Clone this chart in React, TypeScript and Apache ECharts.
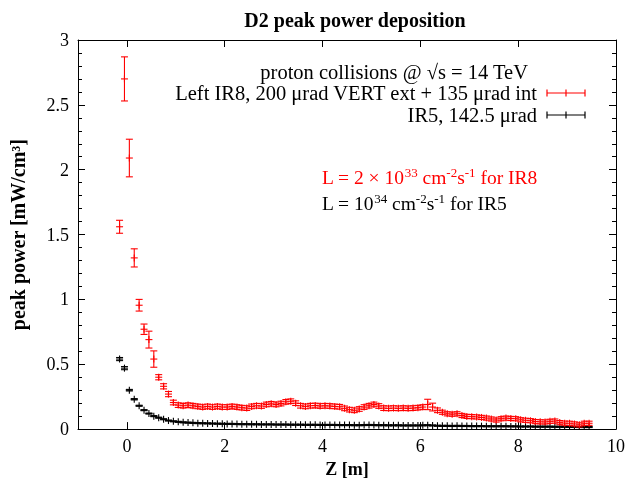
import React, { useEffect, useRef } from "react";
import * as echarts from "echarts";

const zPos = [
  -0.15, -0.05, 0.05, 0.15, 0.25, 0.35, 0.45, 0.55, 0.65, 0.75, 0.85, 0.95,
  1.05, 1.15, 1.25, 1.35, 1.45, 1.55, 1.65, 1.75, 1.85, 1.95,
  2.05, 2.15, 2.25, 2.35, 2.45, 2.55, 2.65, 2.75, 2.85, 2.95,
  3.05, 3.15, 3.25, 3.35, 3.45, 3.55, 3.65, 3.75, 3.85, 3.95,
  4.05, 4.15, 4.25, 4.35, 4.45, 4.55, 4.65, 4.75, 4.85, 4.95,
  5.05, 5.15, 5.25, 5.35, 5.45, 5.55, 5.65, 5.75, 5.85, 5.95,
  6.05, 6.15, 6.25, 6.35, 6.45, 6.55, 6.65, 6.75, 6.85, 6.95,
  7.05, 7.15, 7.25, 7.35, 7.45, 7.55, 7.65, 7.75, 7.85, 7.95,
  8.05, 8.15, 8.25, 8.35, 8.45, 8.55, 8.65, 8.75, 8.85, 8.95,
  9.05, 9.15, 9.25, 9.35, 9.45,
];

const ir8Power = [
  1.56, 2.7, 2.09, 1.32, 0.955, 0.77, 0.69, 0.54, 0.4, 0.33, 0.27, 0.205,
  0.185, 0.18, 0.185, 0.18, 0.175, 0.17, 0.175, 0.17, 0.175, 0.17,
  0.17, 0.175, 0.17, 0.165, 0.162, 0.175, 0.18, 0.178, 0.19, 0.195,
  0.19, 0.197, 0.21, 0.215, 0.2, 0.18, 0.175, 0.18, 0.182, 0.178,
  0.18, 0.178, 0.175, 0.172, 0.16, 0.15, 0.145, 0.155, 0.17, 0.18,
  0.19, 0.178, 0.162, 0.16, 0.162, 0.16, 0.162, 0.16, 0.162, 0.165,
  0.17, 0.19, 0.17, 0.145, 0.13, 0.118, 0.115, 0.118, 0.105, 0.098,
  0.096, 0.094, 0.09, 0.085, 0.078, 0.07, 0.08, 0.085, 0.082, 0.08,
  0.072, 0.068, 0.065, 0.058, 0.056, 0.055, 0.06, 0.062, 0.05, 0.046,
  0.045, 0.04, 0.033, 0.045, 0.045,
];

const ir8Err = [
  0.05, 0.17, 0.145, 0.07, 0.045, 0.04, 0.065, 0.063, 0.02, 0.02, 0.02, 0.018,
  0.018, 0.018, 0.018, 0.018, 0.018, 0.018, 0.018, 0.018, 0.018, 0.018,
  0.018, 0.018, 0.018, 0.018, 0.018, 0.018, 0.018, 0.018, 0.018, 0.018,
  0.018, 0.018, 0.018, 0.018, 0.018, 0.018, 0.018, 0.018, 0.018, 0.018,
  0.018, 0.018, 0.018, 0.018, 0.018, 0.018, 0.018, 0.018, 0.018, 0.018,
  0.018, 0.018, 0.018, 0.018, 0.018, 0.018, 0.018, 0.018, 0.018, 0.018,
  0.018, 0.04, 0.03, 0.018, 0.016, 0.016, 0.016, 0.016, 0.016, 0.016,
  0.016, 0.016, 0.016, 0.016, 0.016, 0.016, 0.016, 0.016, 0.016, 0.016,
  0.016, 0.016, 0.016, 0.016, 0.016, 0.016, 0.016, 0.016, 0.016, 0.016,
  0.016, 0.016, 0.016, 0.016, 0.016,
];

const ir5Power = [
  0.54, 0.47, 0.3, 0.23, 0.18, 0.146, 0.12, 0.1, 0.088, 0.076, 0.066, 0.06,
  0.056, 0.052, 0.05, 0.048, 0.046, 0.045, 0.044, 0.043, 0.042, 0.041,
  0.04, 0.04, 0.039, 0.038, 0.038, 0.037, 0.037, 0.036, 0.036, 0.036,
  0.035, 0.035, 0.035, 0.034, 0.034, 0.034, 0.033, 0.033, 0.033, 0.032,
  0.032, 0.032, 0.032, 0.031, 0.031, 0.031, 0.03, 0.03, 0.031, 0.032,
  0.031, 0.03, 0.03, 0.029, 0.029, 0.029, 0.028, 0.028, 0.028, 0.028,
  0.029, 0.03, 0.028, 0.026, 0.025, 0.025, 0.024, 0.025, 0.024, 0.024,
  0.023, 0.023, 0.023, 0.022, 0.022, 0.022, 0.022, 0.022, 0.021, 0.021,
  0.02, 0.02, 0.02, 0.019, 0.019, 0.019, 0.019, 0.018, 0.018, 0.018,
  0.017, 0.017, 0.016, 0.016, 0.016,
];

const ir5Err = [
  0.012, 0.012, 0.006, 0.005, 0.004, 0.004, 0.004, 0.004, 0.004, 0.004, 0.004, 0.004,
  0.004, 0.004, 0.004, 0.004, 0.004, 0.004, 0.004, 0.004, 0.004, 0.004,
  0.004, 0.004, 0.004, 0.004, 0.004, 0.004, 0.004, 0.004, 0.004, 0.004,
  0.004, 0.004, 0.004, 0.004, 0.004, 0.004, 0.004, 0.004, 0.004, 0.004,
  0.004, 0.004, 0.004, 0.004, 0.004, 0.004, 0.004, 0.004, 0.004, 0.004,
  0.004, 0.004, 0.004, 0.004, 0.004, 0.004, 0.004, 0.004, 0.004, 0.004,
  0.004, 0.004, 0.004, 0.004, 0.004, 0.004, 0.004, 0.004, 0.004, 0.004,
  0.004, 0.004, 0.004, 0.004, 0.004, 0.004, 0.004, 0.004, 0.004, 0.004,
  0.004, 0.004, 0.004, 0.004, 0.004, 0.004, 0.004, 0.004, 0.004, 0.004,
  0.004, 0.004, 0.004, 0.004, 0.004,
];

const xTicks = [0, 2, 4, 6, 8, 10];

const legendLabels = [
  "Left IR8, 200 \u03bcrad VERT ext + 135 \u03bcrad int",
  "IR5, 142.5 \u03bcrad",
];

const FONT = "'Liberation Serif', 'DejaVu Serif', serif";

function makeRender(color: string) {
  return (params: any, api: any) => {
    const x = api.value(0);
    const y = api.value(1);
    const e = api.value(2);
    const c = api.coord([x, y]);
    const t = api.coord([x, y + e]);
    const b = api.coord([x, y - e]);
    const w = 3.5;
    const st = { stroke: color, lineWidth: 1.1 };
    return {
      type: "group",
      children: [
        { type: "line", shape: { x1: c[0], y1: t[1], x2: c[0], y2: b[1] }, style: st },
        { type: "line", shape: { x1: c[0] - w, y1: t[1], x2: c[0] + w, y2: t[1] }, style: st },
        { type: "line", shape: { x1: c[0] - w, y1: b[1], x2: c[0] + w, y2: b[1] }, style: st },
        { type: "line", shape: { x1: c[0] - w, y1: c[1], x2: c[0] + w, y2: c[1] }, style: st },
        { type: "line", shape: { x1: c[0], y1: c[1] - w, x2: c[0], y2: c[1] + w }, style: st },
      ],
    };
  };
}

function legendSample(y: number, color: string) {
  const st = { stroke: color, lineWidth: 1.2 };
  const x1 = 547;
  const x2 = 585;
  const xm = (x1 + x2) / 2;
  return [
    { type: "line", shape: { x1, y1: y, x2, y2: y }, style: st },
    { type: "line", shape: { x1, y1: y - 3.5, x2: x1, y2: y + 3.5 }, style: st },
    { type: "line", shape: { x1: x2, y1: y - 3.5, x2, y2: y + 3.5 }, style: st },
    { type: "line", shape: { x1: xm, y1: y - 3.5, x2: xm, y2: y + 3.5 }, style: st },
  ];
}

export default function App() {
  const ref = useRef<HTMLDivElement>(null);
  useEffect(() => {
    if (!ref.current) return;
    const chart = echarts.init(ref.current, null, { renderer: "svg" });
    const axisLine = { show: true, onZero: false, lineStyle: { color: "#000", width: 1 } };
    const labelStyle = { color: "#000", fontFamily: FONT, fontSize: 18 };
    const supStyle = { fontFamily: FONT, fontSize: 13, padding: [0, 0, 10, 0] };
    const legendText = (text: string, x: number, y: number) => ({
      type: "text",
      x,
      y,
      style: {
        text,
        fontFamily: FONT,
        fontSize: 20.5,
        fill: "#000",
        align: "right",
        verticalAlign: "middle",
      },
    });
    chart.setOption({
      animation: false,
      title: {
        text: "D2 peak power deposition",
        left: 350,
        top: 5,
        textAlign: "center",
        textStyle: { fontFamily: FONT, fontSize: 20, fontWeight: "bold", color: "#000" },
      },
      grid: { left: 77, right: 7, top: 40, bottom: 47, containLabel: false },
      xAxis: [
        {
          type: "value",
          min: -1,
          max: 10,
          position: "bottom",
          axisLine,
          splitLine: { show: false },
          axisTick: { show: true, inside: true, length: 7, customValues: xTicks, lineStyle: { color: "#000" } },
          axisLabel: { ...labelStyle, margin: 8, customValues: xTicks },
          name: "Z [m]",
          nameLocation: "middle",
          nameGap: 21,
          nameTextStyle: { fontFamily: FONT, fontSize: 18, fontWeight: "bold", color: "#000" },
        },
        {
          type: "value",
          min: -1,
          max: 10,
          position: "top",
          axisLine,
          splitLine: { show: false },
          axisTick: { show: true, inside: true, length: 7, customValues: xTicks, lineStyle: { color: "#000" } },
          axisLabel: { show: false },
        },
      ],
      yAxis: [
        {
          type: "value",
          min: 0,
          max: 3,
          interval: 0.5,
          position: "left",
          axisLine,
          splitLine: { show: false },
          axisTick: { show: true, inside: true, length: 7, lineStyle: { color: "#000" } },
          minorTick: { show: true, splitNumber: 5, length: 4, lineStyle: { color: "#000" } },
          axisLabel: { ...labelStyle, margin: 9 },
          name: "peak power [mW/cm\u00b3]",
          nameLocation: "middle",
          nameGap: 50,
          nameTextStyle: { fontFamily: FONT, fontSize: 20, fontWeight: "bold", color: "#000" },
        },
        {
          type: "value",
          min: 0,
          max: 3,
          interval: 0.5,
          position: "right",
          axisLine,
          splitLine: { show: false },
          axisTick: { show: true, inside: true, length: 7, lineStyle: { color: "#000" } },
          minorTick: { show: true, splitNumber: 5, length: 4, lineStyle: { color: "#000" } },
          axisLabel: { show: false },
        },
      ],
      series: [
        {
          type: "custom",
          name: legendLabels[1],
          xAxisIndex: 0,
          yAxisIndex: 0,
          renderItem: makeRender("#000000"),
          encode: { x: 0, y: 1 },
          data: zPos.map((z, i) => [z, ir5Power[i], ir5Err[i]]),
          clip: true,
        },
        {
          type: "custom",
          name: legendLabels[0],
          xAxisIndex: 0,
          yAxisIndex: 0,
          renderItem: makeRender("#ff0000"),
          encode: { x: 0, y: 1 },
          data: zPos.map((z, i) => [z, ir8Power[i], ir8Err[i]]),
          clip: true,
        },
      ],
      graphic: [
        legendText("proton collisions @ \u221as = 14 TeV", 528, 72),
        legendText(legendLabels[0], 537, 93),
        legendText(legendLabels[1], 537, 115),
        ...legendSample(93, "#ff0000"),
        ...legendSample(115, "#000000"),
        {
          type: "text",
          x: 322,
          y: 177,
          style: {
            text: "{a|L = 2 \u00d7 10}{s|33}{a| cm}{s|-2}{a|s}{s|-1}{a| for IR8}",
            fill: "#ff0000",
            verticalAlign: "middle",
            rich: {
              a: { fontFamily: FONT, fontSize: 19.5, fill: "#ff0000" },
              s: { ...supStyle, fill: "#ff0000" },
            },
          },
        },
        {
          type: "text",
          x: 322,
          y: 203,
          style: {
            text: "{a|L = 10}{s|34}{a| cm}{s|-2}{a|s}{s|-1}{a| for IR5}",
            fill: "#000",
            verticalAlign: "middle",
            rich: {
              a: { fontFamily: FONT, fontSize: 19.5, fill: "#000" },
              s: { ...supStyle, fill: "#000" },
            },
          },
        },
      ],
    });
    return () => chart.dispose();
  }, []);
  return (
    <div
      ref={ref}
      style={{ position: "fixed", left: 0, top: 0, width: 628, height: 483 }}
    />
  );
}
